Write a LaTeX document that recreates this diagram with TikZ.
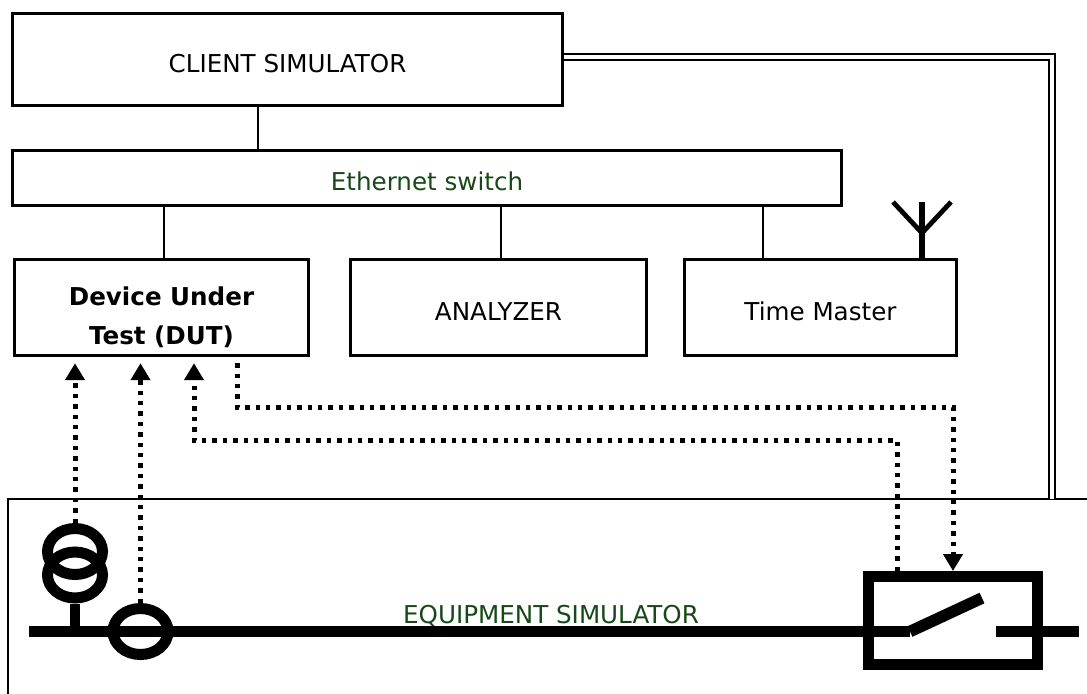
\documentclass[tikz,border=0pt]{standalone}
\usepackage{fontspec}
\setmainfont{DejaVu Sans}
\usetikzlibrary{arrows.meta}
\usetikzlibrary{shapes.geometric}
\definecolor{labelgreen}{RGB}{24,72,24}

\begin{document}
\begin{tikzpicture}[x=0.5pt,y=-0.5pt,font=\fontsize{12.3}{19.5}\selectfont,
    unit/.style={draw,line width=1.7pt,inner sep=0pt,align=center},
    oneline/.style={text height=12.5pt,text depth=0pt},
    wire/.style={line width=1.1pt},
    heavy/.style={line width=5.8pt},
    sig/.style={line width=2.5pt,dash pattern=on 2.2pt off 3pt},
    tip/.style={-{Triangle[length=8.5pt,width=9.5pt]}},
    ring/.style={draw,ellipse,line width=5.5pt,inner sep=0pt,minimum width=27.5pt,minimum height=23pt}]
    \useasboundingbox (0,0) rectangle (1087,693);
    \clip (0,0) rectangle (1087,693);
    \node[unit,oneline,minimum width=275pt,minimum height=46pt] (client) at (287.5,59.5) {CLIENT SIMULATOR};
    \node[unit,oneline,minimum width=414.5pt,minimum height=27.5pt,text=labelgreen] (switch) at (427,178) {Ethernet switch};
    \node[unit,minimum width=147pt,minimum height=48pt,font=\fontsize{12.3}{19.5}\selectfont\bfseries] (dut) at (161.5,307.5) {\rule{0pt}{19.4pt}Device Under\\Test (DUT)};
    \node[unit,oneline,minimum width=148pt,minimum height=48pt] (analyzer) at (498.5,307.5) {ANALYZER};
    \node[unit,oneline,minimum width=136pt,minimum height=48pt] (master) at (820.5,307.5) {Time Master};
    \coordinate (tapC) at (258,0);
    \coordinate (tapD) at (164,0);
    \coordinate (tapA) at (501,0);
    \coordinate (tapM) at (763,0);
    \draw[wire] (tapC |- client.south) -- (tapC |- switch.north);
    \draw[wire] (tapD |- switch.south) -- (tapD |- dut.north);
    \draw[wire] (tapA |- switch.south) -- (tapA |- analyzer.north);
    \draw[wire] (tapM |- switch.south) -- (tapM |- master.north);
    \coordinate (mast) at (922,202);
    \draw[line width=2.9pt] (mast |- master.north) -- (mast);
    \draw[line width=2.4pt] (893,202) -- (922,233) -- (951,202);
    \coordinate (eqcorner) at (8,499);
    \draw[line width=1.4pt] (1100,499) -- (eqcorner) -- (8,700);
    \coordinate (link) at (1052,57);
    \draw[double,line width=0.85pt,double distance=2.4pt] (client.east |- link) -- (link) -- (link |- eqcorner);
    \node[anchor=base,text=labelgreen] (eqlabel) at (551,623) {EQUIPMENT SIMULATOR};
    \coordinate (busL) at (29,631.5);
    \coordinate (busR) at (1079,631.5);
    \coordinate (pivot) at (910,631.5);
    \coordinate (blade) at (982,598);
    \coordinate (fix) at (996,631.5);
    \draw[heavy] (busL) -- (pivot);
    \draw[heavy] (pivot) -- (blade);
    \draw[heavy] (fix) -- (busR);
    \node[draw,line width=5.5pt,inner sep=0pt,minimum width=84.5pt,minimum height=44pt] (brk) at (953,620.5) {};
    \node[ring] (ct2) at (140.5,631.5) {};
    \node[ring] (ctb) at (75,575) {};
    \node[ring] (cta) at (75,551.5) {};
    \draw[line width=4.8pt] (ctb.south) -- (ctb.south |- busL);
    \draw[sig,tip,shorten >=3pt] (cta.north) -- (cta.north |- dut.south);
    \draw[sig,tip,shorten >=3pt] (ct2.north) -- (ct2.north |- dut.south);
    \coordinate (fbk) at (897,440);
    \coordinate (fbkEnd) at (194,440);
    \draw[sig,tip,shorten >=3pt] (fbk |- brk.north) -- (fbk) -- (fbkEnd) -- (fbkEnd |- dut.south);
    \coordinate (trip) at (237,407);
    \coordinate (tripEnd) at (953,407);
    \draw[sig,tip,shorten <=3pt] (trip |- dut.south) -- (trip) -- (tripEnd) -- (brk.north);
\end{tikzpicture}
\end{document}
